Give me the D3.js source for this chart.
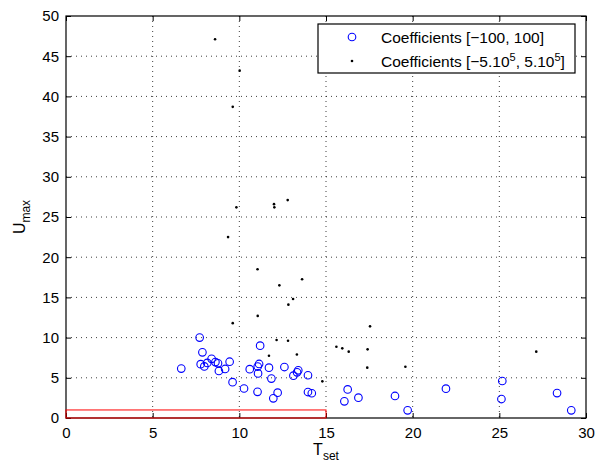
<!DOCTYPE html>
<html>
<head>
<meta charset="utf-8">
<script src="https://d3js.org/d3.v7.min.js"></script>
<style>
body { margin:0; background:#fff; }
text { font-family: "Liberation Sans", Arial, sans-serif; }
</style>
</head>
<body>
<div id="plot"></div>
<script>
// data
var circleX = [6.65,7.71,7.87,7.77,7.98,8.15,8.4,8.62,8.77,8.82,9.18,9.44,9.61,10.27,10.6,11.05,11.06,11.14,11.08,11.2,
	11.71,11.85,11.96,12.21,12.6,13.12,13.33,13.4,13.96,13.96,14.18,16.25,16.06,16.87,18.98,19.71,21.92,25.17,25.12,28.33,29.15];
var circleY = [6.15,10.0,8.17,6.7,6.42,6.85,7.36,6.95,6.8,5.85,6.1,7.0,4.46,3.67,6.07,3.25,6.4,6.72,5.55,9.0,
	6.26,4.9,2.45,3.15,6.34,5.27,5.68,5.93,5.32,3.23,3.08,3.56,2.07,2.53,2.74,0.95,3.65,4.6,2.36,3.1,0.95];

var dotX = [8.6,10.02,9.62,9.83,12.0,12.02,12.79,9.35,11.05,12.31,13.1,12.83,11.06,9.62,12.15,12.81,11.71,13.32,
	13.62,17.54,15.6,15.94,16.31,17.4,17.38,14.79,19.58,27.13];
var dotY = [47.1,43.2,38.7,26.2,26.6,26.2,27.1,22.5,18.5,16.5,14.8,14.1,12.7,11.8,9.7,9.6,7.75,7.9,
	17.25,11.4,8.87,8.66,8.25,8.54,6.26,4.56,6.38,8.25];

var xTicks = [0,5,10,15,20,25,30];
var yTicks = [0,5,10,15,20,25,30,35,40,45,50];
var limitBox = {x:[0,15], y:[0,1]};
var legendLabels = ['Coefficients [\u2212100, 100]', 'Coefficients [\u22125.10', ', 5.10', ']'];

var W = 596, H = 466;
var margin = {t:16,r:10,b:48,l:66};
var width = W-margin.l-margin.r,
	height = H-margin.t-margin.b;

var svg = d3.select('#plot')
	.append('svg')
	.attr('width',W)
	.attr('height',H);

var plot = svg.append('g')
	.attr('transform','translate('+margin.l+','+margin.t+')');

var x = d3.scaleLinear().domain([0,30]).range([0,width]);
var y = d3.scaleLinear().domain([0,50]).range([height,0]);

//grid
plot.selectAll('.gx').data(xTicks.slice(1,-1)).enter()
	.append('line')
	.attr('x1',d=>x(d)).attr('x2',d=>x(d))
	.attr('y1',0).attr('y2',height)
	.style('stroke','#000').style('stroke-width',1)
	.style('stroke-dasharray','1,4').style('opacity',0.75);
plot.selectAll('.gy').data(yTicks.slice(1,-1)).enter()
	.append('line')
	.attr('x1',0).attr('x2',width)
	.attr('y1',d=>y(d)).attr('y2',d=>y(d))
	.style('stroke','#000').style('stroke-width',1)
	.style('stroke-dasharray','1,4').style('opacity',0.75);

//axes, ticks inside
var tickLen = 5;
plot.append('g').attr('transform','translate(0,'+height+')')
	.call(d3.axisBottom(x).tickValues(xTicks).tickSizeInner(-tickLen).tickSizeOuter(0).tickPadding(9));
plot.append('g')
	.call(d3.axisTop(x).tickValues(xTicks).tickSizeInner(-tickLen).tickSizeOuter(0).tickFormat(''));
plot.append('g')
	.call(d3.axisLeft(y).tickValues(yTicks).tickSizeInner(-tickLen).tickSizeOuter(0).tickPadding(7));
plot.append('g').attr('transform','translate('+width+',0)')
	.call(d3.axisRight(y).tickValues(yTicks).tickSizeInner(-tickLen).tickSizeOuter(0).tickFormat(''));

plot.selectAll('.domain').remove();
plot.selectAll('.tick text').style('font-size','15px').style('fill','#000')
	.style('font-family','"Liberation Sans", Arial, sans-serif');
plot.selectAll('.tick line').style('stroke','#000');

plot.append('rect')
	.attr('x',0).attr('y',0).attr('width',width).attr('height',height)
	.style('fill','none').style('stroke','#000').style('stroke-width',1.2);

//red limit box
plot.append('rect')
	.attr('x',x(limitBox.x[0])).attr('y',y(limitBox.y[1]))
	.attr('width',x(limitBox.x[1])-x(limitBox.x[0]))
	.attr('height',y(limitBox.y[0])-y(limitBox.y[1]))
	.style('fill','none').style('stroke','#ff0000').style('stroke-width',1);

//points
circleX.forEach(function(d,i){
	plot.append('circle')
		.attr('cx',x(d)).attr('cy',y(circleY[i])).attr('r',3.8)
		.style('fill','none').style('stroke','#0000ff').style('stroke-width',1.1);
});
dotX.forEach(function(d,i){
	plot.append('circle')
		.attr('cx',x(d)).attr('cy',y(dotY[i])).attr('r',1.3)
		.style('fill','#000');
});

//axis labels
var xl = svg.append('text')
	.attr('x',margin.l+width/2).attr('y',455)
	.attr('text-anchor','middle').style('font-size','16px');
xl.append('tspan').text('T');
xl.append('tspan').attr('dy',5).style('font-size','12px').text('set');

var yl = svg.append('text')
	.attr('transform','translate(25,'+(margin.t+height/2)+') rotate(-90)')
	.attr('text-anchor','middle').style('font-size','16px');
yl.append('tspan').text('U');
yl.append('tspan').attr('dy',5).style('font-size','12px').text('max');

//legend
var lg = svg.append('g').attr('transform','translate(318,24)');
lg.append('rect').attr('width',257).attr('height',49)
	.style('fill','#fff').style('stroke','#000').style('stroke-width',1.2);
lg.append('circle').attr('cx',34).attr('cy',13).attr('r',3.8)
	.style('fill','none').style('stroke','#0000ff').style('stroke-width',1.1);
lg.append('circle').attr('cx',34).attr('cy',37).attr('r',1.3).style('fill','#000');
lg.append('text').attr('x',63).attr('y',19).style('font-size','15.5px').text(legendLabels[0]);
var t2 = lg.append('text').attr('x',63).attr('y',43).style('font-size','15.5px');
t2.append('tspan').text(legendLabels[1]);
t2.append('tspan').attr('dy',-6).style('font-size','11px').text('5');
t2.append('tspan').attr('dy',6).text(legendLabels[2]);
t2.append('tspan').attr('dy',-6).style('font-size','11px').text('5');
t2.append('tspan').attr('dy',6).text(legendLabels[3]);
</script>
</body>
</html>
